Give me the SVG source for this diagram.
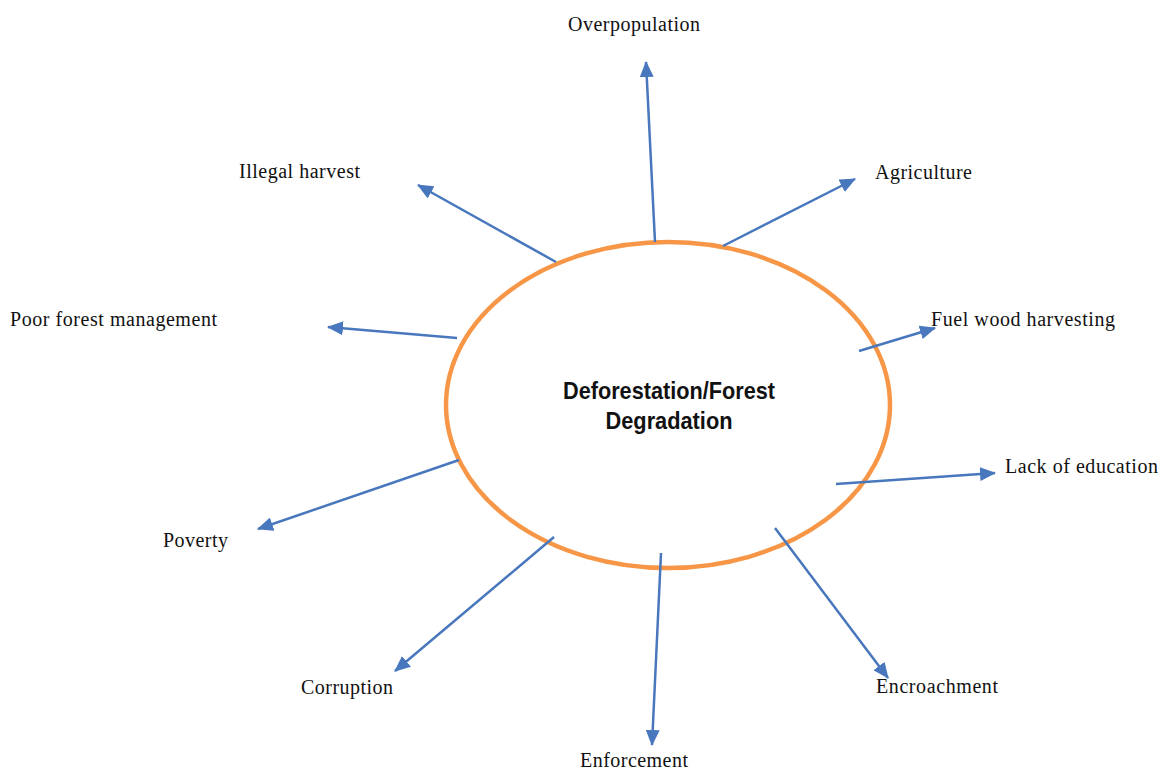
<svg xmlns="http://www.w3.org/2000/svg" width="1162" height="770" viewBox="0 0 1162 770">
<defs>
<marker id="ah" markerUnits="userSpaceOnUse" markerWidth="16" markerHeight="14" refX="15" refY="7" orient="auto">
<path d="M0,0 L16,7 L0,14 Z" fill="#4877BD"/>
</marker>
<style>
.lbl{font-family:"Liberation Serif","Times New Roman",serif;font-size:20px;fill:#111}
.ctr{font-family:"Liberation Sans",Arial,sans-serif;font-size:24px;font-weight:bold;fill:#111}
.c{stroke:#4877BD;stroke-width:2.5;fill:none;marker-end:url(#ah)}
</style>
</defs>
<rect width="1162" height="770" fill="#fff"/>
<g id="center">
<ellipse cx="668" cy="405" rx="222" ry="163" fill="#fff" stroke="#F79646" stroke-width="4.5"/>
<text class="ctr" x="669" y="399" text-anchor="middle" textLength="212" lengthAdjust="spacingAndGlyphs">Deforestation/Forest</text>
<text class="ctr" x="669" y="429" text-anchor="middle" textLength="127" lengthAdjust="spacingAndGlyphs">Degradation</text>
</g>
<g id="connectors">
<line class="c" x1="655" y1="242" x2="646" y2="62"/>
<line class="c" x1="723" y1="246" x2="855" y2="179"/>
<line class="c" x1="859" y1="351" x2="935" y2="328"/>
<line class="c" x1="836" y1="484" x2="995" y2="473"/>
<line class="c" x1="775" y1="528" x2="888" y2="678"/>
<line class="c" x1="661" y1="553" x2="652" y2="745"/>
<line class="c" x1="554" y1="537" x2="395" y2="671"/>
<line class="c" x1="459" y1="460" x2="258" y2="529"/>
<line class="c" x1="457" y1="338" x2="328" y2="327"/>
<line class="c" x1="556" y1="262" x2="418" y2="185"/>
</g>
<g id="n-overpopulation"><text class="lbl" x="568" y="31" textLength="132" lengthAdjust="spacing">Overpopulation</text></g>
<g id="n-agriculture"><text class="lbl" x="875" y="179" textLength="97" lengthAdjust="spacing">Agriculture</text></g>
<g id="n-fuelwood"><text class="lbl" x="931" y="326" textLength="184" lengthAdjust="spacing">Fuel wood harvesting</text></g>
<g id="n-education"><text class="lbl" x="1005" y="473" textLength="153" lengthAdjust="spacing">Lack of education</text></g>
<g id="n-encroachment"><text class="lbl" x="876" y="693" textLength="122" lengthAdjust="spacing">Encroachment</text></g>
<g id="n-enforcement"><text class="lbl" x="580" y="767" textLength="108" lengthAdjust="spacing">Enforcement</text></g>
<g id="n-corruption"><text class="lbl" x="301" y="694" textLength="92" lengthAdjust="spacing">Corruption</text></g>
<g id="n-poverty"><text class="lbl" x="163" y="547" textLength="65" lengthAdjust="spacing">Poverty</text></g>
<g id="n-management"><text class="lbl" x="10" y="326" textLength="207" lengthAdjust="spacing">Poor forest management</text></g>
<g id="n-illegal"><text class="lbl" x="239" y="178" textLength="121" lengthAdjust="spacing">Illegal harvest</text></g>
</svg>
